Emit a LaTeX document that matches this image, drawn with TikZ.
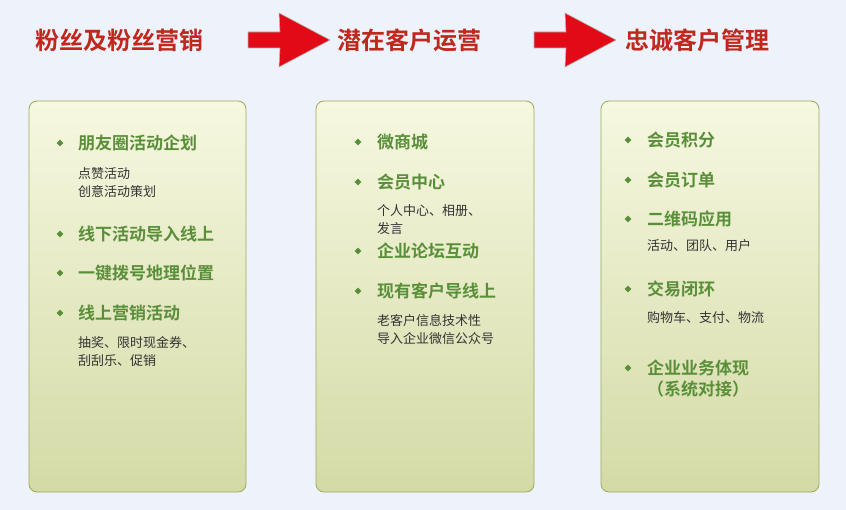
\documentclass[tikz,border=0pt]{standalone}
\usepackage{fontspec}
\setmainfont{Noto Sans CJK SC}
\newfontfamily\cjkb{Noto Sans CJK SC Bold}
\usetikzlibrary{shapes.geometric}
\definecolor{bg}{HTML}{EEF2FB}
\definecolor{ttl}{HTML}{C0281E}
\definecolor{hd}{HTML}{5A8F3A}
\definecolor{bd}{HTML}{9AAB5A}
\definecolor{btop}{HTML}{F6F8E0}
\definecolor{bbot}{HTML}{D4DAA6}
\definecolor{arr}{HTML}{E20A16}
\begin{document}
\begin{tikzpicture}[x=1pt,y=-1pt,
  title/.style={text=ttl,font=\cjkb\fontsize{24}{26}\selectfont,anchor=west},
  panel/.style={draw=bd,line width=0.8pt,rounded corners=8pt,top color=btop,bottom color=bbot},
  head/.style={text=hd,font=\cjkb\fontsize{17}{19}\selectfont,anchor=west,inner sep=0pt},
  sub/.style={text=black!80,font=\fontsize{13}{18}\selectfont,anchor=west,inner sep=0pt,align=left},
  dot/.style={diamond,fill=hd,inner sep=0pt,minimum size=7pt},
  bigarrow/.style={fill=arr,draw=gray!60,line width=0.6pt}]
\fill[bg] (0,0) rectangle (846,510);
\useasboundingbox (0,0) rectangle (846,510);
\node[title] (t1) at (32,40) {粉丝及粉丝营销};
\node[title] (t2) at (334,40) {潜在客户运营};
\node[title] (t3) at (622,40) {忠诚客户管理};
\draw[bigarrow] (248,32)--(280,32)--(279,13)--(330,40)--(279,67)--(280,48)--(248,48)--cycle;
\draw[bigarrow] (534,32)--(566,32)--(565,13)--(616,40)--(565,67)--(566,48)--(534,48)--cycle;
\path[panel] (29,101) rectangle (246,492);
\path[panel] (316,101) rectangle (534,492);
\path[panel] (601,101) rectangle (819,492);
% box 1
\node[dot] (b11) at (60,143) {}; \node[head] (h11) at (78,143) {朋友圈活动企划};
\node[sub] (s11) at (78,183) {点赞活动\\创意活动策划};
\node[dot] (b12) at (60,234) {}; \node[head] (h12) at (78,234) {线下活动导入线上};
\node[dot] (b13) at (60,273) {}; \node[head] (h13) at (78,273) {一键拨号地理位置};
\node[dot] (b14) at (60,313) {}; \node[head] (h14) at (78,313) {线上营销活动};
\node[sub] (s14) at (78,352) {抽奖、限时现金券、\\刮刮乐、促销};
% box 2
\node[dot] (b21) at (358,142) {}; \node[head] (h21) at (377,142) {微商城};
\node[dot] (b22) at (358,182) {}; \node[head] (h22) at (377,182) {会员中心};
\node[sub] (s22) at (377,220) {个人中心、相册、\\发言};
\node[dot] (b23) at (358,251) {}; \node[head] (h23) at (377,251) {企业论坛互动};
\node[dot] (b24) at (358,291) {}; \node[head] (h24) at (377,291) {现有客户导线上};
\node[sub] (s24) at (377,330) {老客户信息技术性\\导入企业微信公众号};
% box 3
\node[dot] (b31) at (628,140) {}; \node[head] (h31) at (647,140) {会员积分};
\node[dot] (b32) at (628,180) {}; \node[head] (h32) at (647,180) {会员订单};
\node[dot] (b33) at (628,219) {}; \node[head] (h33) at (647,219) {二维码应用};
\node[sub] (s33) at (647,246) {活动、团队、用户};
\node[dot] (b34) at (628,289) {}; \node[head] (h34) at (647,289) {交易闭环};
\node[sub] (s34) at (647,318) {购物车、支付、物流};
\node[dot] (b35) at (628,368) {}; \node[head] (h35) at (647,368) {企业业务体现};
\node[head] (h36) at (647,389) {（系统对接）};
\end{tikzpicture}
\end{document}
